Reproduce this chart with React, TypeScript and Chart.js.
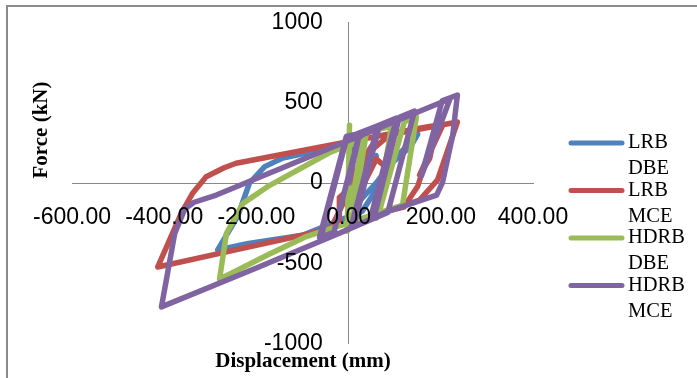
import React, { useEffect, useRef } from 'react';
import { Chart, registerables } from 'chart.js';

Chart.register(...registerables);

const seriesLabels = ['LRB DBE', 'LRB MCE', 'HDRB DBE', 'HDRB MCE'];
const seriesColors = ['#4F81BD', '#C0504D', '#9BBB59', '#8064A2'];
const xAxisTitle = 'Displacement (mm)';
const yAxisTitle = 'Force (kN)';
const xMin = -600;
const xMax = 400;
const xStep = 200;
const yMin = -1000;
const yMax = 1000;
const yStep = 500;
// displacement at which the force tick labels are right-aligned (just left of the zero line)
const yLabelAnchor = -56;

// [displacement (mm), force (kN)] turning points
const lrbDbe: [number, number][] = [
  [0, 0], [30, 100], [60, 170], [35, 20], [9, -156], [60, 0], [100, 150], [150, 305],
  [135, 230], [82, 93], [60, -40], [30, -175], [-100, -326], [-217, -376], [-284, -417],
  [-241, -210], [-215, 0], [-182, 102], [-143, 156], [-60, 205], [0, 235], [30, 150],
  [10, -60], [0, 0],
];

const lrbMce: [number, number][] = [
  [0, 0], [25, 120], [50, 230], [30, 40], [-20, -90], [-20, -250], [-40, -290], [0, -60],
  [24, 91], [46, 195], [89, 300], [236, 380], [193, 19], [154, -106], [60, -200],
  [-69, -305], [-250, -420], [-414, -523], [-363, -189], [-338, -62], [-309, 39],
  [-270, 95], [-244, 123], [-4, 255], [169, 349], [205, 365], [154, 50], [176, 154],
  [190, 341], [150, -20], [120, -150], [60, -190], [80, 100], [60, 150], [20, -80], [0, 0],
];

const hdrbDbe: [number, number][] = [
  [0, 0], [2, 360], [-3, -300], [6, -262], [39, 320], [93, 351], [60, -220], [64, -205],
  [121, 382], [147, 413], [117, -137], [-92, -334], [-176, -449], [-280, -600],
  [-265, -314], [-229, -127], [-176, -23], [-43, 187], [-11, 224], [30, 260], [5, -150], [0, 0],
];

const hdrbMce: [number, number][] = [
  [0, 0], [24, 312], [-32, -308], [-60, -337], [-4, 281], [63, 357], [6, -267], [12, -262],
  [67, 361], [104, 404], [47, -225], [55, -216], [110, 410], [143, 448], [85, -184],
  [-20, -313], [-200, -530], [-406, -772], [-377, -312], [-355, -160], [-335, -120],
  [-287, -75], [-171, 62], [220, 525], [158, 45], [203, 512], [236, 548], [226, 299],
  [204, 6], [191, -75], [82, -180], [-20, -313], [-63, -340], [-5, 290], [10, 300],
];

const seriesData = [lrbDbe, lrbMce, hdrbDbe, hdrbMce];

const decorPlugin = {
  id: 'decor',
  afterDraw(chart: any) {
    const ctx = chart.ctx as CanvasRenderingContext2D;
    ctx.save();
    ctx.strokeStyle = '#8a8a8a';
    ctx.lineWidth = 2;
    ctx.strokeRect(7, 6, 720, 400);

    ctx.fillStyle = '#000';
    ctx.font = 'bold 21px "Liberation Serif"';
    ctx.textAlign = 'center';
    ctx.textBaseline = 'middle';
    ctx.fillText(xAxisTitle, 303, 362);
    ctx.save();
    ctx.translate(42, 130);
    ctx.rotate(-Math.PI / 2);
    ctx.fillText(yAxisTitle, 0, 0);
    ctx.restore();

    // legend
    ctx.font = '20.5px "Liberation Serif"';
    ctx.textAlign = 'left';
    chart.data.datasets.forEach((ds: any, i: number) => {
      const y0 = 143 + i * 47.5;
      ctx.strokeStyle = ds.borderColor;
      ctx.lineWidth = 5;
      ctx.lineCap = 'round';
      ctx.beginPath();
      ctx.moveTo(571, y0);
      ctx.lineTo(622, y0);
      ctx.stroke();
      const parts = String(ds.label).split(' ');
      ctx.fillStyle = '#000';
      parts.forEach((p: string, j: number) => ctx.fillText(p, 628, y0 + j * 26));
    });
    ctx.restore();
  },
};

const tickFont = { family: 'Liberation Sans', size: 23 };

export default function App() {
  const ref = useRef<HTMLCanvasElement>(null);
  useEffect(() => {
    document.body.style.margin = '0';
    const canvas = ref.current!;
    const chart = new Chart(canvas, {
      type: 'scatter',
      data: {
        datasets: seriesData.map((pts, i) => ({
          label: seriesLabels[i],
          data: pts.map(([x, y]) => ({ x, y })),
          showLine: true,
          borderColor: seriesColors[i],
          backgroundColor: seriesColors[i],
          borderWidth: 5.5,
          pointRadius: 0,
          tension: 0,
          borderJoinStyle: 'round',
          borderCapStyle: 'round',
          order: 4 - i,
          yAxisID: 'y',
        })),
      },
      options: {
        animation: false,
        responsive: false,
        devicePixelRatio: 1,
        layout: { padding: { left: 72, right: 164, top: 22.5, bottom: 34.5 } },
        plugins: { legend: { display: false }, tooltip: { enabled: false } },
        scales: {
          x: {
            type: 'linear',
            min: xMin,
            max: xMax,
            position: { y: 0 } as any,
            grid: { display: false, drawTicks: false },
            border: { display: true, color: '#888888', width: 1 },
            ticks: {
              stepSize: xStep,
              autoSkip: false,
              maxRotation: 0,
              padding: 21,
              color: '#000',
              font: tickFont,
              callback: (v: any) => Number(v).toFixed(2),
              z: 1,
            },
          },
          y: {
            type: 'linear',
            min: yMin,
            max: yMax,
            position: { x: yLabelAnchor } as any,
            grid: { display: false, drawTicks: false },
            border: { display: false },
            ticks: {
              stepSize: yStep,
              autoSkip: false,
              padding: 0,
              color: '#000',
              font: tickFont,
              callback: (v: any) => String(v),
              z: 1,
            },
          },
          yLine: {
            type: 'linear',
            axis: 'y',
            min: yMin,
            max: yMax,
            position: { x: 0 } as any,
            grid: { display: false, drawTicks: false },
            border: { display: true, color: '#888888', width: 1 },
            ticks: { display: false },
          },
        },
      },
      plugins: [decorPlugin],
    });
    return () => chart.destroy();
  }, []);
  return (
    <div style={{ width: 697, height: 378 }}>
      <canvas ref={ref} width={697} height={378} style={{ display: 'block' }} />
    </div>
  );
}
